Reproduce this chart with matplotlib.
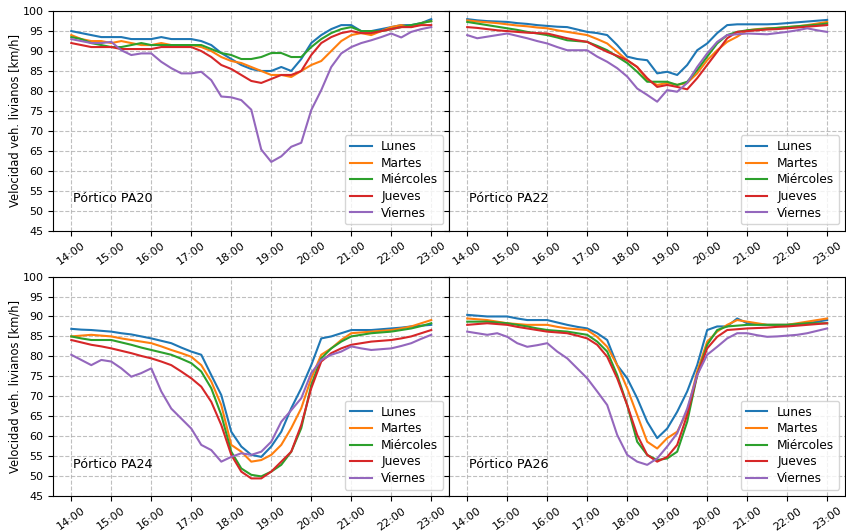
import pandas as pd
import matplotlib.pyplot as plt
import matplotlib.dates as mdates

# 15-min readings, 14:00 -> 23:00
horas = pd.date_range('2023-01-02 14:00', '2023-01-02 23:00', freq='15min')
dias = ['Lunes', 'Martes', 'Miércoles', 'Jueves', 'Viernes']
porticos = ['PA20', 'PA22', 'PA24', 'PA26']

pa20_lun = [95, 94.5, 94, 93.5, 93.5, 93.5, 93, 93, 93, 93.5, 93, 93, 93, 92.5, 91.5, 89.5, 88, 86.5, 85.5,
            85, 85, 86, 85, 88, 92, 94, 95.5, 96.5, 96.5, 95, 95, 95.5, 96, 96.5, 96.5, 97, 98]
pa20_mar = [94, 93, 92.5, 92.5, 92, 92.5, 92, 91.5, 91.5, 92, 91.5, 91.5, 91.5, 91, 90, 88.5, 87.5, 87, 86,
            85, 84, 84, 83.5, 85, 86.5, 87.5, 90, 92.5, 94, 94.5, 94, 95, 96, 96.5, 96, 97, 97.5]
pa20_mie = [93.5, 93, 92, 91.5, 91, 91, 91.5, 92, 91.5, 91.5, 91.5, 91.5, 91.5, 91.5, 90.5, 89.5, 89, 88, 88,
            88.5, 89.5, 89.5, 88.5, 88.5, 91, 93, 94.5, 95.5, 96, 95, 95, 95, 95.5, 96, 96.5, 97, 97.5]
pa20_jue = [92, 91.5, 91, 91, 91, 90.5, 90.5, 90.5, 90.5, 91, 91, 91, 91, 90, 88.5, 86.5, 85.5, 84, 82.5,
            82, 83, 84, 84, 85, 89, 92, 93.5, 94.5, 95, 94.5, 94.5, 95, 95.5, 96, 96, 96.5, 96.5]
pa20_vie = [93, 92.5, 92, 92, 92.3, 90.2, 89, 89.4, 89.4, 87.3, 85.7, 84.4, 84.4, 84.8, 82.7, 78.6, 78.4, 77.7, 75.3,
            65.3, 62.2, 63.6, 66, 67, 75.2, 80.2, 86, 89.4, 91, 92, 92.7, 93.5, 94.4, 93.4, 94.8, 95.5, 96]

pa22_lun = [98, 97.7, 97.5, 97.4, 97.3, 97, 96.8, 96.5, 96.3, 96.1, 96, 95.4, 94.8, 94.5, 94, 91.5, 88.6, 88, 87.7,
            84.4, 84.8, 84, 86.5, 90.2, 91.9, 94.5, 96.5, 96.7, 96.7, 96.7, 96.7, 96.8, 97, 97.2, 97.4, 97.6, 97.8]
pa22_mar = [97.7, 97.4, 97.2, 97, 96.7, 96.4, 96.2, 95.9, 95.7, 95.2, 94.8, 94.4, 94, 93, 91.9, 89.8, 87.7, 86, 82.7,
            81.5, 82, 81.5, 82, 84.4, 87.7, 90.2, 92.3, 93.6, 95.2, 95.5, 95.7, 95.8, 96, 96.2, 96.5, 96.9, 97.3]
pa22_mie = [97.3, 96.9, 96.5, 96.1, 95.7, 95.3, 94.8, 94.4, 94, 93.4, 92.7, 92.5, 92.3, 91.3, 90.2, 88.6, 87, 84.8, 82.3,
            82.3, 82.3, 81.5, 82.3, 85.2, 88.6, 91.9, 94, 94.8, 95.2, 95.4, 95.6, 95.8, 96, 96.2, 96.4, 96.6, 96.9]
pa22_jue = [96, 95.8, 95.5, 95.2, 95, 94.8, 94.6, 94.5, 94.4, 93.8, 93.2, 92.7, 92.3, 91, 89.8, 88.8, 87.7, 86, 83.2,
            81, 81.5, 81, 80.4, 83.2, 86.5, 89.8, 93.2, 94.8, 95, 95.2, 95.4, 95.5, 95.7, 95.9, 96.1, 96.3, 96.5]
pa22_vie = [94, 93.2, 93.6, 94, 94.4, 93.8, 93.2, 92.5, 91.9, 91, 90.2, 90.2, 90.2, 88.6, 87.3, 85.7, 83.6, 80.6, 79,
            77.3, 80.2, 79.8, 82, 86, 89.4, 92.3, 94, 94.2, 94.4, 94.3, 94.2, 94.5, 94.8, 95.2, 95.7, 95.2, 94.8]

pa24_lun = [86.9, 86.7, 86.6, 86.4, 86.2, 85.8, 85.5, 85, 84.5, 83.9, 83.3, 82.2, 81.2, 80.4, 75.3, 70.3, 61.1, 57.4, 55.3,
            54.8, 57.4, 61.1, 67, 72, 77.8, 84.5, 85, 85.8, 86.6, 86.6, 86.6, 86.8, 87, 87.2, 87.5, 87.7, 87.9]
pa24_mar = [85, 85.2, 85.4, 85.2, 85, 84.5, 84.1, 83.7, 83.3, 82.5, 81.6, 80.8, 79.9, 77.8, 73.7, 67.8, 57.8, 56.1, 53.6,
            54, 55.3, 57.8, 62, 67, 74.5, 80.4, 82, 84.1, 85.8, 86, 86.2, 86.4, 86.6, 87, 87.5, 88.3, 89.1]
pa24_mie = [85, 84.5, 84.1, 84.1, 84.1, 83.5, 82.9, 82.2, 81.6, 81, 80.4, 79.4, 78.3, 76.2, 72, 65.3, 56.1, 51.9, 50.3,
            49.9, 51.1, 52.8, 56.1, 62, 72.8, 79.5, 82, 83.7, 85, 85.4, 85.8, 86, 86.2, 86.6, 87, 87.6, 88.3]
pa24_jue = [84.1, 83.5, 82.9, 82.5, 82, 81.4, 80.8, 80.1, 79.5, 78.7, 77.8, 76.2, 74.5, 72.4, 68.6, 62.8, 55.3, 51.1, 49.4,
            49.4, 51.1, 53.6, 56.1, 62.8, 72, 78.7, 80.8, 82, 82.9, 83.3, 83.7, 83.9, 84.1, 84.5, 85, 85.8, 86.6]
pa24_vie = [80.4, 79.1, 77.8, 79.1, 78.7, 77, 74.9, 75.8, 77, 71.2, 66.9, 64.4, 61.9, 57.8, 56.5, 53.6, 54.8, 55.7, 55.3,
            56.1, 58.6, 63.6, 66.5, 69.5, 75.8, 79.1, 80.4, 81.2, 82.5, 82, 81.6, 81.8, 82, 82.6, 83.3, 84.4, 85.4]

pa26_lun = [90.4, 90.2, 90, 90, 90, 89.5, 89.1, 89.1, 89.1, 88.5, 87.9, 87.4, 87, 85.8, 84.1, 77.8, 74.5, 69.5, 63.6,
            59.5, 61.9, 66.1, 71.2, 77.8, 86.6, 87.5, 87.5, 89.5, 88.3, 88.1, 87.9, 87.9, 87.9, 88.1, 88.3, 88.7, 89.1]
pa26_mar = [89.5, 89.3, 89.1, 88.7, 88.3, 88.1, 87.9, 87.9, 87.9, 87.4, 87, 86.8, 86.6, 84.9, 82.4, 77.8, 72, 65.3, 58.6,
            56.9, 59.5, 61.1, 66.1, 76.2, 83.7, 86.2, 87.9, 89.1, 88.7, 88.3, 87.9, 87.9, 87.9, 88.3, 88.7, 89.1, 89.5]
pa26_mie = [88.7, 88.7, 88.7, 88.5, 88.3, 87.9, 87.5, 87, 86.6, 86.4, 86.2, 85.8, 85.4, 83.7, 81.2, 75.3, 67.8, 58.6, 55.3,
            54, 54.4, 56.1, 63.6, 75.3, 82.9, 86.6, 87.5, 87.7, 87.9, 87.9, 87.9, 87.9, 87.9, 88.1, 88.3, 88.3, 88.3]
pa26_jue = [87.9, 88.1, 88.3, 88.1, 87.9, 87.4, 87, 86.6, 86.2, 86, 85.8, 85.2, 84.5, 82.9, 79.9, 74.5, 67.8, 60.3, 55.3,
            53.6, 54.8, 57.8, 65.3, 75.3, 82, 84.9, 86.6, 86.8, 87, 87.1, 87.2, 87.4, 87.5, 87.7, 87.9, 88.1, 88.3]
pa26_vie = [86.2, 85.8, 85.4, 85.8, 84.9, 83.3, 82.4, 82.8, 83.3, 81.2, 79.5, 77, 74.5, 71.2, 67.8, 60.3, 55.3, 53.6, 52.8,
            54.4, 57.4, 60.7, 66.9, 75.3, 80.4, 82.4, 84.5, 85.8, 85.8, 85.3, 84.9, 85, 85.2, 85.4, 85.8, 86.4, 87]

velocidades = {
    'PA20': [pa20_lun, pa20_mar, pa20_mie, pa20_jue, pa20_vie],
    'PA22': [pa22_lun, pa22_mar, pa22_mie, pa22_jue, pa22_vie],
    'PA24': [pa24_lun, pa24_mar, pa24_mie, pa24_jue, pa24_vie],
    'PA26': [pa26_lun, pa26_mar, pa26_mie, pa26_jue, pa26_vie],
}

plt.rcParams['font.size'] = 8
fig, axs = plt.subplots(2, 2, figsize=(8.46, 5.31), dpi=100, sharey=True)
fig.subplots_adjust(left=0.063, right=0.999, bottom=0.066, top=0.979, wspace=0, hspace=0.21)

for ax, p in zip(axs.flat, porticos):
    for dia, serie in zip(dias, velocidades[p]):
        ax.plot(horas, serie, label=dia, lw=1.5)
    ax.set_ylim(45, 100)
    ax.set_yticks(range(45, 101, 5))
    ax.xaxis.set_major_locator(mdates.HourLocator())
    ax.xaxis.set_major_formatter(mdates.DateFormatter('%H:%M'))
    ax.tick_params(axis='x', labelrotation=35)
    ax.grid(True, ls='--', color='#b0b0b0', alpha=0.8)
    ax.legend(loc='lower right', fontsize=8.7, labelspacing=0.3, handlelength=1.8)
    ax.text(0.05, 0.145, 'Pórtico ' + p, transform=ax.transAxes, fontsize=9.2, va='center')

for ax in axs[:, 0]:
    ax.set_ylabel('Velocidad veh. livianos [km/h]', fontsize=8.3, labelpad=1)

fig.savefig('out.png')
